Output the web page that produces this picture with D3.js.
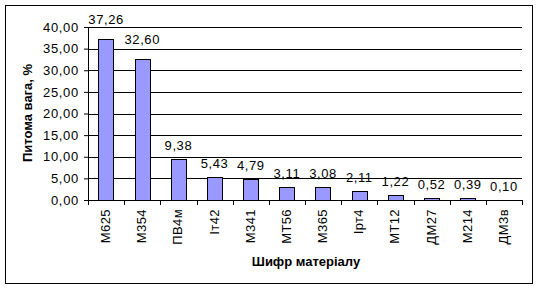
<!DOCTYPE html>
<html>
<head>
<meta charset="utf-8">
<script src="https://cdn.jsdelivr.net/npm/d3@7"></script>
<style>
  body { margin: 0; background: #fff; }
  text { font-family: "Liberation Sans", Arial, sans-serif; }
</style>
</head>
<body>
<div id="viz"></div>
<script>
let categories = ['М625', 'М354', 'ПВ4м', 'Іт42', 'М341', 'МТ56', 'М365', 'Ірт4', 'МТ12', 'ДМ27', 'М214', 'ДМ3в'];
let values = [37.26, 32.60, 9.38, 5.43, 4.79, 3.11, 3.08, 2.11, 1.22, 0.52, 0.39, 0.10];
let yTicks = [0, 5, 10, 15, 20, 25, 30, 35, 40];

let fmt = v => d3.format('.2f')(v).replace('.', ',');

let W = 539, H = 289;
let margin = { top: 27, right: 17, bottom: 89, left: 88 },
  width = W - margin.left - margin.right,
  height = H - margin.top - margin.bottom;

let svgRoot = d3.select('#viz').append('svg')
  .attr('width', W)
  .attr('height', H);

// outer frame
svgRoot.append('rect')
  .attr('x', 5.5).attr('y', 5.5)
  .attr('width', 527).attr('height', 278)
  .attr('fill', 'none')
  .attr('stroke', '#000')
  .attr('stroke-width', 1);

let svg = svgRoot.append('g')
  .attr('transform', 'translate(' + margin.left + ',' + margin.top + ')');

let x = d3.scaleBand().domain(categories).range([0, width]).paddingInner(0).paddingOuter(0);
let y = d3.scaleLinear().domain([0, 40]).range([height, 0]);

// gridlines
svg.selectAll('line.grid')
  .data(yTicks.filter(t => t > 0))
  .enter().append('line')
  .attr('class', 'grid')
  .attr('x1', 0).attr('x2', width)
  .attr('y1', d => Math.round(y(d)) + 0.5)
  .attr('y2', d => Math.round(y(d)) + 0.5)
  .attr('stroke', '#000');

// y axis
let yAxis = svg.append('g')
  .call(d3.axisLeft(y).tickValues(yTicks).tickFormat(fmt).tickSize(4).tickPadding(5));
yAxis.select('.domain').attr('d', `M0.5,0V${height}`).attr('stroke', '#000');
yAxis.selectAll('.tick line').attr('stroke', '#000');
yAxis.selectAll('.tick text')
  .style('font-size', '13px')
  .style('letter-spacing', '0.7px')
  .attr('fill', '#000');

// bars
let bw = x.bandwidth() * 0.42;
svg.selectAll('rect.bar')
  .data(values)
  .enter().append('rect')
  .attr('class', 'bar')
  .attr('x', (d, i) => Math.round(x(categories[i]) + (x.bandwidth() - bw) / 2) + 0.5)
  .attr('y', d => Math.round(y(d)) + 0.5)
  .attr('width', Math.round(bw))
  .attr('height', d => Math.max(0, Math.round(height - y(d))))
  .attr('fill', '#9999ff')
  .attr('stroke', '#000');

// x axis
let xAxis = svg.append('g')
  .attr('transform', `translate(0,${height})`)
  .call(d3.axisBottom(x).tickSize(0).tickFormat(''));
xAxis.select('.domain').attr('d', `M0,0.5H${width}`).attr('stroke', '#000');

// category boundary ticks
svg.selectAll('line.xtick')
  .data(d3.range(categories.length + 1))
  .enter().append('line')
  .attr('class', 'xtick')
  .attr('x1', i => Math.round(i * x.step()) + 0.5)
  .attr('x2', i => Math.round(i * x.step()) + 0.5)
  .attr('y1', height)
  .attr('y2', height + 5)
  .attr('stroke', '#000');

// category labels
svg.selectAll('text.cat')
  .data(categories)
  .enter().append('text')
  .attr('class', 'cat')
  .attr('transform', d => `translate(${x(d) + x.bandwidth() / 2 + 4},${height + 9}) rotate(-90)`)
  .attr('text-anchor', 'end')
  .style('font-size', '13px')
  .style('letter-spacing', '0.4px')
  .text(d => d);

// value labels (the two tall bars sit a bit higher, as in the original)
svg.selectAll('text.val')
  .data(values)
  .enter().append('text')
  .attr('class', 'val')
  .attr('x', (d, i) => x(categories[i]) + x.bandwidth() / 2)
  .attr('y', d => y(d) - (d > 30 ? 15 : 9))
  .attr('text-anchor', 'middle')
  .style('font-size', '13px')
  .style('letter-spacing', '0.6px')
  .text(d => fmt(d));

// axis titles
svgRoot.append('text')
  .attr('x', 306)
  .attr('y', 266)
  .attr('text-anchor', 'middle')
  .style('font-size', '13px')
  .style('font-weight', 'bold')
  .text('Шифр матеріалу');

svgRoot.append('text')
  .attr('transform', 'translate(32,113) rotate(-90)')
  .attr('text-anchor', 'middle')
  .style('font-size', '13px')
  .style('font-weight', 'bold')
  .text('Питома вага, %');
</script>
</body>
</html>
